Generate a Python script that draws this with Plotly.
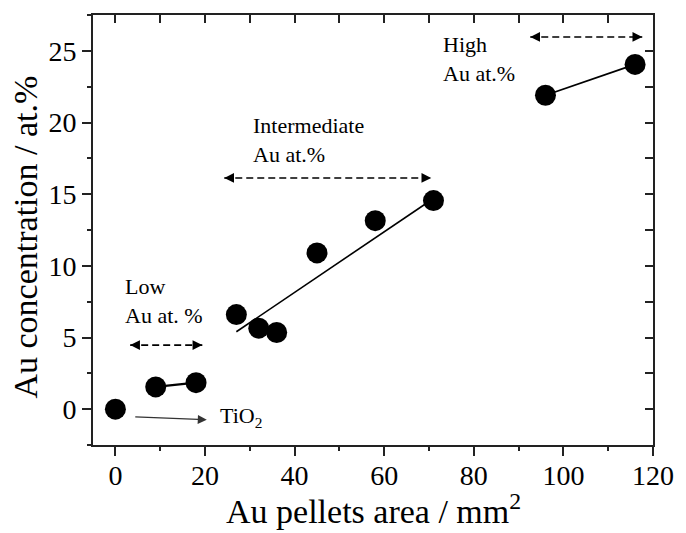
import plotly.graph_objects as go

# data
area = [0, 9, 18, 27, 32, 36, 45, 58, 71, 96, 116]
conc = [0.0, 1.55, 1.85, 6.6, 5.65, 5.35, 10.9, 13.15, 14.55, 21.9, 24.05]

low_x = [9, 18]
low_y = [1.55, 1.85]
fit_x = [27, 71]
fit_y = [5.4, 14.7]
high_x = [96, 116]
high_y = [21.9, 24.05]

# range arrows (x start, x end, y)
arrows = {
    "low": ([3.3, 19.4], 4.47),
    "inter": ([24.3, 70.5], 16.13),
    "high": ([92.6, 117.6], 25.97),
}
tio2_arrow_x = [4.1, 20.4]
tio2_arrow_y = [-0.53, -0.74]

labels = [
    ("Low<br>Au at. %", 1.8, 7.55),
    ("Intermediate<br>Au at.%", 30.2, 18.75),
    ("High<br>Au at.%", 72.6, 24.4),
]

FONT = "Liberation Serif, Times New Roman, serif"
fig = go.Figure()

for xs, ys, w in [(low_x, low_y, 2.2), (fit_x, fit_y, 1.6), (high_x, high_y, 1.8)]:
    fig.add_trace(go.Scatter(x=xs, y=ys, mode="lines",
                             line=dict(color="black", width=w), showlegend=False, hoverinfo="skip"))

for key, (xs, y) in arrows.items():
    fig.add_trace(go.Scatter(x=xs, y=[y, y], mode="lines",
                             line=dict(color="black", width=1.6, dash="7px,4px"),
                             showlegend=False, hoverinfo="skip"))
    # arrow heads
    for head, tail in [(xs[0], xs[0] + 1.5), (xs[1], xs[1] - 1.5)]:
        fig.add_annotation(x=head, y=y, ax=tail, ay=y, xref="x", yref="y",
                           axref="x", ayref="y", text="", showarrow=True,
                           arrowhead=2, arrowsize=1.3, arrowwidth=1.5,
                           arrowcolor="black", standoff=0, startstandoff=0)

fig.add_trace(go.Scatter(x=area, y=conc, mode="markers",
                         marker=dict(color="black", size=21),
                         showlegend=False, hoverinfo="skip"))

# invisible trace for mirrored axes
fig.add_trace(go.Scatter(x=[area[0]], y=[conc[0]], xaxis="x2", yaxis="y2", mode="markers",
                         marker=dict(opacity=0), showlegend=False, hoverinfo="skip"))

fig.add_annotation(x=tio2_arrow_x[1], y=tio2_arrow_y[1], ax=tio2_arrow_x[0], ay=tio2_arrow_y[0],
                   xref="x", yref="y", axref="x", ayref="y", text="", showarrow=True,
                   arrowhead=2, arrowsize=1.5, arrowwidth=1.2, arrowcolor="#333",
                   standoff=0, startstandoff=0)
fig.add_annotation(x=22.9, y=-0.55, xref="x", yref="y", text="TiO<sub>2</sub>",
                   showarrow=False, xanchor="left", yanchor="middle",
                   font=dict(family=FONT, size=22, color="black"))

for txt, x, y in labels:
    fig.add_annotation(x=x, y=y, xref="x", yref="y", text=txt, showarrow=False,
                       xanchor="left", yanchor="middle", align="left",
                       font=dict(family=FONT, size=22, color="black"))

# axis titles
fig.add_annotation(x=0.5, y=-0.15, xref="paper", yref="paper",
                   text="Au pellets area / mm<sup>2</sup>", showarrow=False,
                   xanchor="center", yanchor="middle",
                   font=dict(family=FONT, size=34, color="black"))
fig.add_annotation(x=-0.121, y=0.483, xref="paper", yref="paper",
                   text="Au concentration / at.%", showarrow=False, textangle=-90,
                   xanchor="center", yanchor="middle",
                   font=dict(family=FONT, size=34, color="black"))

axcol = "#222"
fig.update_layout(
    width=686, height=533,
    margin=dict(l=93, r=27, t=15, b=88),
    plot_bgcolor="white", paper_bgcolor="white",
    font=dict(family=FONT, size=28, color="black"),
    xaxis=dict(range=[-5, 120], dtick=20, tick0=0, ticks="outside", ticklen=9, tickwidth=1.5,
               tickcolor=axcol, showline=True, linecolor=axcol, linewidth=2,
               showgrid=False, zeroline=False, ticklabelstandoff=-5,
               minor=dict(dtick=10, ticks="outside", ticklen=4, tickwidth=1.5, tickcolor=axcol,
                          showgrid=False),
               tickfont=dict(family=FONT, size=28, color="black")),
    xaxis2=dict(range=[-5, 120], dtick=10, tick0=0, ticks="inside", ticklen=8, tickwidth=1.5,
                tickcolor=axcol, showline=True, linecolor=axcol, linewidth=2, side="top",
                overlaying="x", showticklabels=False, showgrid=False, zeroline=False),
    yaxis=dict(range=[-2.5, 27.5], dtick=5, tick0=0, ticks="outside", ticklen=9, tickwidth=1.5,
               tickcolor=axcol, showline=True, linecolor=axcol, linewidth=2,
               showgrid=False, zeroline=False,
               minor=dict(dtick=2.5, ticks="outside", ticklen=4, tickwidth=1.5, tickcolor=axcol,
                          showgrid=False),
               tickfont=dict(family=FONT, size=28, color="black")),
    yaxis2=dict(range=[-2.5, 27.5], dtick=2.5, tick0=0, ticks="inside", ticklen=8, tickwidth=1.5,
                tickcolor=axcol, showline=True, linecolor=axcol, linewidth=2, side="right",
                overlaying="y", showticklabels=False, showgrid=False, zeroline=False),
)

fig.write_html("out.html")
